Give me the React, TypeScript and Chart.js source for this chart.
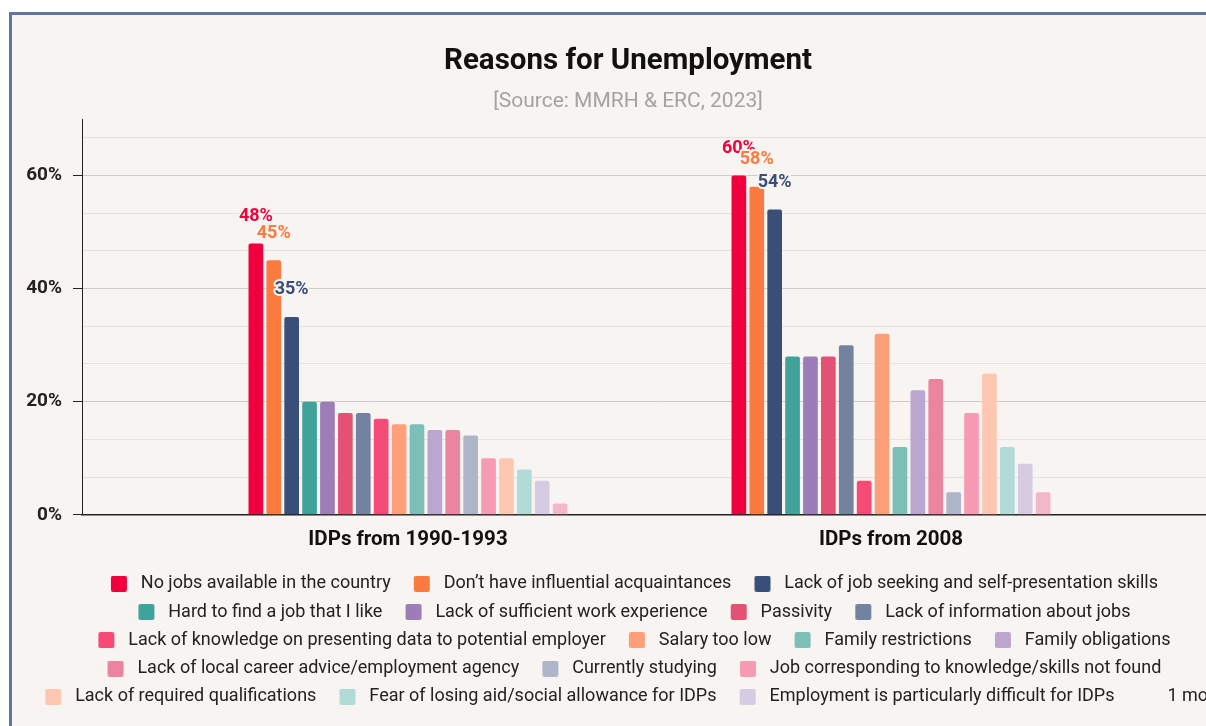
import React, { useEffect, useRef } from 'react';
import { Chart, registerables } from 'chart.js';

Chart.register(...registerables);

// ---------- data ----------
const categories = ['IDPs from 1990-1993', 'IDPs from 2008'];

const reasons = [
  'No jobs available in the country',
  'Don\u2019t have influential acquaintances',
  'Lack of job seeking and self-presentation skills',
  'Hard to find a job that I like',
  'Lack of sufficient work experience',
  'Passivity',
  'Lack of information about jobs',
  'Lack of knowledge on presenting data to potential employer',
  'Salary too low',
  'Family restrictions',
  'Family obligations',
  'Lack of local career advice/employment agency',
  'Currently studying',
  'Job corresponding to knowledge/skills not found',
  'Lack of required qualifications',
  'Fear of losing aid/social allowance for IDPs',
  'Employment is particularly difficult for IDPs',
  'Other',
];

const colors = [
  '#F0003C', '#FB7A3F', '#3A4E7A', '#3FA29B', '#9D7DB8', '#E35274',
  '#72829F', '#F74B77', '#FDA07A', '#7CBFB8', '#BBA6CF', '#EA849F',
  '#AFB5C9', '#F79AB3', '#FDC7B0', '#B2DAD7', '#D7CBE3', '#F2B8C8',
];

const idps1990 = [48, 45, 35, 20, 20, 18, 18, 17, 16, 16, 15, 15, 14, 10, 10, 8, 6, 2];
const idps2008 = [60, 58, 54, 28, 28, 28, 30, 6, 32, 12, 22, 24, 4, 18, 25, 12, 9, 4];

const labelledSeries = 3; // value labels shown for the first three reasons
const legendShown = 17; // remaining reasons are summarised as "1 more"
const yMax = 70;
const yStep = 20 / 3;
const yLabelStep = 20;

const BG = '#F7F4F1';
const FONT = 'Roboto';

const isMajor = (v: number) => Math.abs(v / yLabelStep - Math.round(v / yLabelStep)) < 1e-9;

function swatch(color: string | null): HTMLCanvasElement {
  const c = document.createElement('canvas');
  c.width = 34;
  c.height = 16;
  const g = c.getContext('2d')!;
  if (color) {
    g.fillStyle = color;
    g.beginPath();
    (g as any).roundRect ? (g as any).roundRect(13, 0, 16, 16, 2) : g.rect(13, 0, 16, 16);
    g.fill();
  }
  return c;
}

const valueLabels = {
  id: 'valueLabels',
  afterDatasetsDraw(chart: any) {
    const ctx = chart.ctx;
    ctx.save();
    ctx.font = `bold 18px ${FONT}`;
    ctx.textAlign = 'center';
    ctx.textBaseline = 'middle';
    ctx.lineJoin = 'round';
    for (let d = 0; d < labelledSeries; d++) {
      const meta = chart.getDatasetMeta(d);
      meta.data.forEach((el: any, i: number) => {
        const v = chart.data.datasets[d].data[i].y;
        const x = el.x;
        const y = el.y - 27;
        ctx.lineWidth = 4;
        ctx.strokeStyle = BG;
        ctx.strokeText(`${v}%`, x, y);
        ctx.fillStyle = colors[d];
        ctx.fillText(`${v}%`, x, y);
      });
    }
    ctx.restore();
  },
};

export default function App() {
  const ref = useRef<HTMLCanvasElement>(null);

  useEffect(() => {
    const canvas = ref.current!;
    const datasets = reasons.map((name, i) => ({
      label: name,
      data: [
        { x: 0, y: idps1990[i] },
        { x: 1, y: idps2008[i] },
      ],
      backgroundColor: colors[i],
      borderRadius: 2,
      borderSkipped: 'bottom' as const,
      categoryPercentage: 0.667,
      barPercentage: 0.82,
    }));

    const chartLeft = 82;
    const chartRight = 1244;
    const c0 = 408;
    const c1 = 891;
    const unit = c1 - c0;
    const xMin = (chartLeft - c0) / unit;
    const xMax = 1 + (chartRight - c1) / unit;

    const chart = new Chart(canvas, {
      type: 'bar',
      data: { datasets },
      plugins: [valueLabels],
      options: {
        animation: false,
        responsive: false,
        events: [],
        font: { family: FONT },
        layout: { padding: { left: 0, right: 0, top: 0, bottom: 19.25 } },
        plugins: {
          tooltip: { enabled: false },
          title: {
            display: true,
            text: 'Reasons for Unemployment',
            color: '#111',
            font: { family: FONT, size: 29.5, weight: 'bold' },
            padding: { top: 29.3, bottom: 0 },
          },
          subtitle: {
            display: true,
            text: '[Source: MMRH & ERC, 2023]',
            color: '#A3A3A3',
            font: { family: FONT, size: 21 },
            padding: { top: 9.7, bottom: 4.4 },
          },
          legend: {
            position: 'bottom',
            onClick: () => {},
            labels: {
              usePointStyle: true,
              pointStyleWidth: 33.75,
              boxHeight: 16,
              padding: 10.25,
              color: '#222',
              font: { family: FONT, size: 18 },
              generateLabels: () => {
                const items: any[] = reasons.slice(0, legendShown).map((name, i) => ({
                  text: name,
                  fillStyle: colors[i],
                  strokeStyle: colors[i],
                  lineWidth: 0,
                  hidden: false,
                  datasetIndex: i,
                  pointStyle: swatch(colors[i]),
                  fontColor: '#222',
                }));
                items.push({
                  text: `${reasons.length - legendShown} more`,
                  fillStyle: 'rgba(0,0,0,0)',
                  strokeStyle: 'rgba(0,0,0,0)',
                  lineWidth: 0,
                  hidden: false,
                  pointStyle: swatch(null),
                  fontColor: '#222',
                });
                return items;
              },
            },
          },
        },
        scales: {
          x: {
            type: 'linear',
            offset: false,
            min: xMin,
            max: xMax,
            afterBuildTicks: (s: any) => {
              s.ticks = categories.map((_, i) => ({ value: i }));
            },
            afterFit: (s: any) => {
              s.height = 49.75;
            },
            grid: { display: false },
            border: { display: true, color: '#222', width: 1.5 },
            ticks: {
              autoSkip: false,
              maxRotation: 0,
              padding: 5,
              color: '#111',
              font: { family: FONT, size: 20.5, weight: 'bold' },
              callback: (v: any) => categories[Math.round(Number(v))] ?? '',
            },
          },
          y: {
            min: 0,
            max: yMax,
            afterBuildTicks: (s: any) => {
              const t: any[] = [];
              for (let i = 0; i * yStep < yMax - 1e-9; i++) t.push({ value: (i * yLabelStep) / 3 });
              s.ticks = t;
            },
            afterFit: (s: any) => {
              s.width = 70;
            },
            grid: {
              color: (c: any) => (c.tick && isMajor(c.tick.value) ? '#CFCBC7' : '#E5E1DD'),
              tickColor: (c: any) => (c.tick && isMajor(c.tick.value) ? '#222' : 'rgba(0,0,0,0)'),
              tickLength: 9,
              lineWidth: 1,
            },
            border: { display: true, color: '#222', width: 1 },
            ticks: {
              padding: 11,
              color: '#222',
              font: { family: FONT, size: 19, weight: 'bold' },
              callback: (v: any) => (isMajor(Number(v)) ? `${Math.round(Number(v))}%` : ''),
            },
          },
        },
      } as any,
    });
    return () => chart.destroy();
  }, []);

  return (
    <div
      style={{
        position: 'fixed',
        left: 0,
        top: 0,
        width: 1206,
        height: 726,
        overflow: 'hidden',
        background: '#fff',
      }}
    >
      <div
        style={{
          position: 'absolute',
          left: 9,
          top: 12,
          width: 1300,
          height: 800,
          borderLeft: '3px solid #6175A2',
          borderTop: '3px solid #6175A2',
          background: BG,
        }}
      >
        <canvas ref={ref} width={1232} height={720} style={{ display: 'block' }} />
      </div>
    </div>
  );
}
